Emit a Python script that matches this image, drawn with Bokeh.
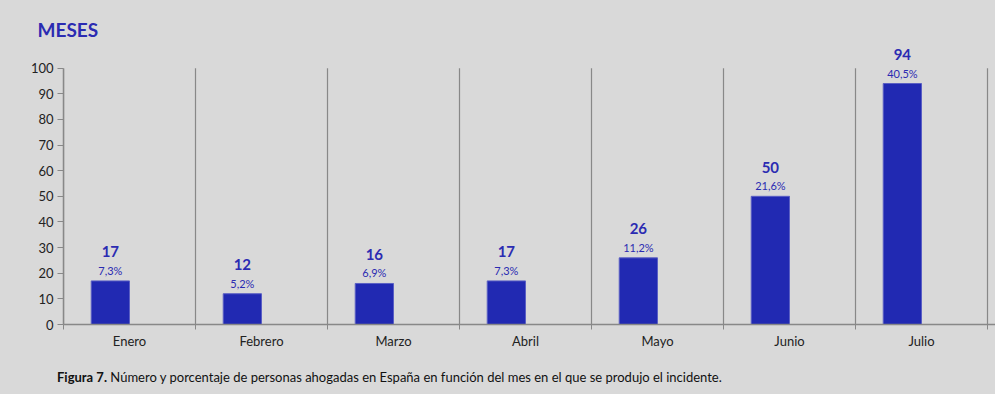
import numpy as np
from bokeh.plotting import figure
from bokeh.layouts import column
from bokeh.models import ColumnDataSource, FixedTicker, LabelSet, Range1d, Div
from bokeh.transform import dodge
from bokeh.core.properties import value
from bokeh.embed import file_html
from bokeh.resources import INLINE

months = ["Enero", "Febrero", "Marzo", "Abril", "Mayo", "Junio", "Julio"]
counts = [17, 12, 16, 17, 26, 50, 94]
percents = ["7,3%", "5,2%", "6,9%", "7,3%", "11,2%", "21,6%", "40,5%"]
y_ticks = list(range(0, 101, 10))
title_text = "MESES"
caption_bold = "Figura 7."
caption_text = "Número y porcentaje de personas ahogadas en España en función del mes en el que se produjo el incidente."

BG = "#d9d9d9"
BAR = "#2129b2"
TXT_BLUE = "#2b2bb2"
AXIS = "#888888"
FONT = "Lato"
W = 995
FIG_H = 362
CAP_H = 32

centers = [i + 0.5 for i in range(len(months))]
bounds = list(range(len(months) + 1))

src = ColumnDataSource(dict(x=centers, count=counts,
                            count_txt=[str(c) for c in counts], pct=percents))

p = figure(width=W, height=FIG_H, output_backend="svg", toolbar_location=None,
           x_range=Range1d(0, len(months) + 8 / 132), y_range=Range1d(0, 110),
           background_fill_color=BG, background_fill_alpha=0,
           border_fill_color=BG,
           min_border_left=63, min_border_right=0, min_border_top=42,
           min_border_bottom=38)
p.outline_line_color = None

p.title.text = title_text
p.title.align = "left"
p.title.offset = -26
p.title.standoff = 4
p.title.text_font = FONT
p.title.text_font_size = "19px"
p.title.text_font_style = "bold"
p.title.text_color = TXT_BLUE

# category separators (from y=0 to top tick)
p.segment(x0=bounds, y0=[y_ticks[0]] * len(bounds), x1=bounds,
          y1=[y_ticks[-1]] * len(bounds), line_color=AXIS, line_width=1.2)

bx = dodge("x", -0.145, range=p.x_range)
p.vbar(x=bx, top="count", width=0.29,
       source=src, fill_color=BAR, line_color="#5a5fc4", line_width=1)

p.add_layout(LabelSet(x=bx, y="count", text="count_txt", source=src,
                      text_align="center", text_baseline="middle", y_offset=29,
                      text_font=value(FONT), text_font_style="bold",
                      text_font_size="15px", text_color=TXT_BLUE))
p.add_layout(LabelSet(x=bx, y="count", text="pct", source=src,
                      text_align="center", text_baseline="middle", y_offset=10.5,
                      text_font=value(FONT), text_font_size="11px",
                      text_color=TXT_BLUE))

# x axis: labels at centers, ticks at category boundaries (minor ticks)
p.xaxis.ticker = FixedTicker(ticks=centers, minor_ticks=bounds)
p.xaxis.major_label_overrides = {c: m for c, m in zip(centers, months)}
p.xaxis.major_tick_out = 0
p.xaxis.major_tick_in = 0
p.xaxis.minor_tick_out = 5
p.xaxis.minor_tick_in = 0
p.xaxis.minor_tick_line_color = AXIS
p.xaxis.axis_line_color = AXIS
p.xaxis.axis_line_width = 1.5
p.xaxis.major_label_standoff = 3
p.xaxis.major_label_text_font = FONT
p.xaxis.major_label_text_font_size = "13px"
p.xaxis.major_label_text_color = "#222222"

p.yaxis.ticker = FixedTicker(ticks=y_ticks)
p.yaxis.bounds = (y_ticks[0], y_ticks[-1])
p.yaxis.minor_tick_line_color = None
p.yaxis.major_tick_out = 6
p.yaxis.major_tick_in = 0
p.yaxis.major_tick_line_color = AXIS
p.yaxis.axis_line_color = AXIS
p.yaxis.axis_line_width = 1.5
p.yaxis.major_label_standoff = 4
p.yaxis.major_label_text_font = FONT
p.yaxis.major_label_text_font_size = "13px"
p.yaxis.major_label_text_color = "#222222"

p.grid.grid_line_color = None

caption = Div(text=f"<b>{caption_bold}</b> {caption_text}", width=W, height=CAP_H,
              styles={"background-color": BG, "font-family": FONT,
                      "font-size": "13px", "color": "#111111",
                      "padding-left": "57px", "padding-top": "7px",
                      "box-sizing": "border-box", "line-height": "16px",
                      "margin": "0"})

layout = column(p, caption, spacing=0, width=W,
                styles={"background-color": BG})
open("out.html", "w").write(file_html(layout, INLINE))
